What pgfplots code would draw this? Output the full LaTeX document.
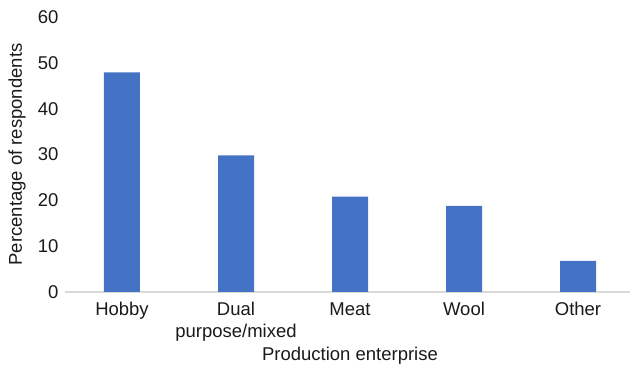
\documentclass[border=0pt]{standalone}
\usepackage{pgfplots}
\pgfplotsset{compat=1.18}
\usepackage{fontspec}
\setmainfont{Liberation Sans}
\definecolor{barblue}{HTML}{4472C4}
\definecolor{axisgray}{HTML}{D9D9D9}
\definecolor{txt}{HTML}{1A1A1A}
\begin{document}
\begin{tikzpicture}[x=1pt,y=1pt]
\useasboundingbox (0,0) rectangle (630,366);
\begin{axis}[
  at={(65pt,74pt)}, anchor=south west,
  scale only axis, width=570pt, height=275pt,
  xmin=-0.5, xmax=4.5, ymin=0, ymax=60,
  ytick={0,10,...,60},
  xtick={0,1,2,3,4},
  xticklabels={Hobby,{Dual\\purpose/mixed},Meat,Wool,Other},
  major tick length=0pt,
  axis x line*=bottom, axis y line*=left,
  x axis line style={draw=axisgray, line width=1.2pt, -},
  y axis line style={draw=none},
  /pgf/number format/assume math mode=true,
  tick label style={font=\fontsize{18.5}{21.5}\selectfont, text=txt},
  xticklabel style={align=center, yshift=-7pt},
  yticklabel style={xshift=-3pt},
  label style={font=\fontsize{18.5}{21.5}\selectfont, text=txt},
  xlabel={Production enterprise},
  xlabel style={at={(axis description cs:0.5,0)}, anchor=base, yshift=-69pt},
  ylabel={Percentage of respondents},
  ylabel style={at={(axis description cs:-0.0842,0.5)}, anchor=center},
  ybar, bar width=36pt,
]
\addplot[fill=barblue, draw=none] coordinates {(0,47.9) (1,29.8) (2,20.8) (3,18.8) (4,6.8)};
\end{axis}
\end{tikzpicture}
\end{document}
